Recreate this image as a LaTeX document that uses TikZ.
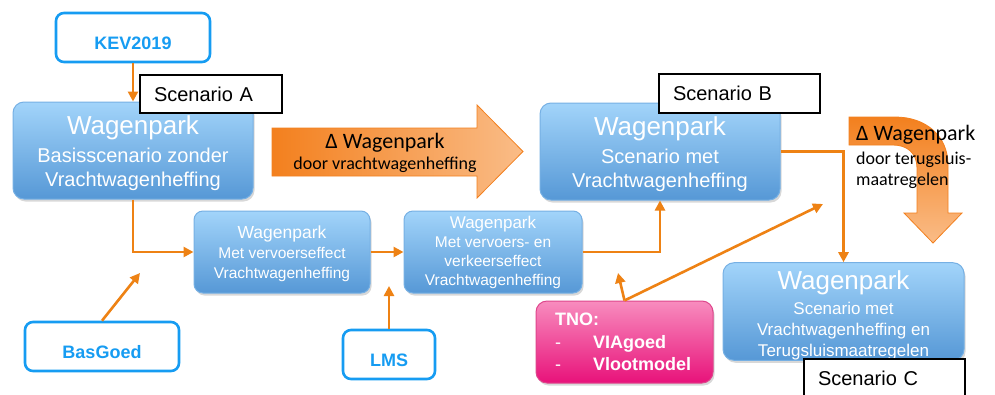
\documentclass[tikz,border=0pt]{standalone}
\usepackage{fontspec}
\setmainfont{Liberation Sans}
\newfontfamily\carlitofont{Carlito}
\usetikzlibrary{arrows.meta,shadows}
\definecolor{org}{RGB}{238,130,20}
\definecolor{orgdark}{RGB}{243,128,30}
\definecolor{orglight}{RGB}{250,188,135}
\definecolor{btop}{RGB}{162,212,250}
\definecolor{bbot}{RGB}{86,152,214}
\definecolor{bborder}{RGB}{118,176,228}
\definecolor{srcblue}{RGB}{22,156,242}
\definecolor{ptop}{RGB}{248,140,190}
\definecolor{pbot}{RGB}{232,18,122}
\definecolor{pborder}{RGB}{222,70,140}
\tikzset{
  wbox/.style={draw=bborder, line width=1pt, rounded corners=11pt, top color=btop, bottom color=bbot,
    text=white, align=center, inner sep=0pt,
    drop shadow={opacity=0.3, shadow xshift=1.5pt, shadow yshift=-2.5pt}},
  srcbox/.style={draw=srcblue, line width=2.6pt, rounded corners=8pt, fill=white, text=srcblue,
    font=\fontsize{18}{20}\selectfont\bfseries, inner sep=0pt, text height=23pt, text depth=0pt},
  scenbox/.style={draw=black, line width=2.6pt, fill=white, text=black, align=left,
    font=\fontsize{20}{22}\selectfont, inner xsep=14pt, inner ysep=0pt},
  conn/.style={draw=org, line width=2.6pt, -{Triangle[length=10pt,width=10pt]}},
  bigarrow/.style={draw=orgdark, line width=0.8pt, left color=orgdark, right color=orglight},
  arrtext/.style={font=\carlitofont, text=black, inner sep=0pt},
}
\begin{document}
\begin{tikzpicture}[x=1pt,y=-1pt]
\useasboundingbox (0,0) rectangle (995,394);
\fill[white] (0,0) rectangle (995,394);

% big straight arrow
\path[bigarrow] (272,128) -- (477,128) -- (477,105) -- (523,151.5) -- (477,198) -- (477,176) -- (272,176) -- cycle;
\node[arrtext, anchor=base] (d1a) at (385,148) {\fontsize{22}{24}\selectfont Δ Wagenpark};
\node[arrtext, anchor=base] (d1b) at (385,169) {\fontsize{18}{20}\selectfont door vrachtwagenheffing};

% bent arrow
\path[draw=orgdark, line width=0.8pt, top color=orgdark, bottom color=orglight]
  (849,117) -- (895,117) .. controls (926,117) and (948,136) .. (948,165) -- (948,213)
  -- (962,213) -- (933,243) -- (904,213) -- (917,213) -- (917,168)
  .. controls (917,153) and (907,145) .. (893,145) -- (849,145) -- cycle;
\node[arrtext, anchor=base west] (d2a) at (856,140) {\fontsize{22}{24}\selectfont Δ Wagenpark};
\node[arrtext, anchor=base west] (d2b) at (856,164) {\fontsize{18}{20}\selectfont door terugsluis-};
\node[arrtext, anchor=base west] (d2c) at (856,185) {\fontsize{18}{20}\selectfont maatregelen};

% main boxes
\node[wbox, font=\fontsize{20}{24}\selectfont, minimum width=240pt, minimum height=97pt] (b1) at (133,150.5)
  {{\fontsize{26}{28}\selectfont\rule{0pt}{25pt}Wagenpark}\\[4pt]Basisscenario zonder\\Vrachtwagenheffing};
\node[wbox, font=\fontsize{20}{24}\selectfont, minimum width=240pt, minimum height=97pt] (bB) at (660,151.5)
  {{\fontsize{26}{28}\selectfont\rule{0pt}{25pt}Wagenpark}\\[4pt]Scenario met\\Vrachtwagenheffing};
\node[wbox, font=\fontsize{17}{21}\selectfont, minimum width=241pt, minimum height=97pt] (bC) at (843.5,311.5)
  {{\fontsize{26}{28}\selectfont\rule{0pt}{27pt}Wagenpark}\\[4pt]Scenario met\\Vrachtwagenheffing en\\Terugsluismaatregelen};
\node[wbox, font=\fontsize{15.5}{20}\selectfont, rounded corners=9pt, minimum width=176pt, minimum height=82pt] (b2) at (282,252)
  {{\fontsize{17.5}{20}\selectfont\rule{0pt}{17pt}Wagenpark}\\Met vervoerseffect\\Vrachtwagenheffing};
\node[wbox, font=\fontsize{15.5}{19}\selectfont, rounded corners=9pt, minimum width=178pt, minimum height=82pt] (b3) at (493,252)
  {{\fontsize{17}{19}\selectfont Wagenpark}\\Met vervoers- en\\verkeerseffect\\Vrachtwagenheffing};

% TNO box
\node[draw=pborder, line width=1pt, rounded corners=11pt, top color=ptop, bottom color=pbot,
  text=white, font=\fontsize{18}{22.5}\selectfont\bfseries, align=left,
  text width=139pt, inner xsep=19pt, inner ysep=0pt, minimum height=82pt,
  drop shadow={opacity=0.3, shadow xshift=1.5pt, shadow yshift=-2.5pt}] (tno) at (624.5,342)
  {TNO:\\\makebox[38pt][l]{\mdseries -}VIAgoed\\\makebox[38pt][l]{\mdseries -}Vlootmodel};

% source boxes
\node[srcbox, minimum width=154pt, minimum height=49pt] (kev) at (133,37.5) {KEV2019};
\node[srcbox, minimum width=154pt, minimum height=49pt] (bas) at (102,346.5) {BasGoed};
\node[srcbox, minimum width=92pt, minimum height=49pt] (lms) at (389,354.5) {LMS};

% scenario labels
\node[scenbox, text width=114pt, minimum height=38pt] (sA) at (211,94) {Scenario A};
\node[scenbox, text width=133pt, minimum height=39pt] (sB) at (739.5,93.5) {Scenario B};
\node[scenbox, text width=133pt, minimum height=38pt] (sC) at (884.5,378) {Scenario C};

% free ends
\coordinate (basEnd) at (140,273);
\coordinate (lmsEnd) at (389,286);
\coordinate (tnoEndA) at (618,273);
\coordinate (tnoEndB) at (823,204);

% connectors
\draw[conn] (kev.south) -- (b1.north);
\draw[conn] (b1.south) |- (b2.west);
\draw[conn] (b2.east) -- (b3.west);
\draw[conn] (b3.east) -| (bB.south);
\draw[conn] (bB.east) -| (bC.north);
\draw[conn] (bas.north) -- (basEnd);
\draw[conn] (lms.north) -- (lmsEnd);
\draw[conn] (tno.north) -- (tnoEndA);
\draw[conn] (tno.north) -- (tnoEndB);
\end{tikzpicture}
\end{document}
